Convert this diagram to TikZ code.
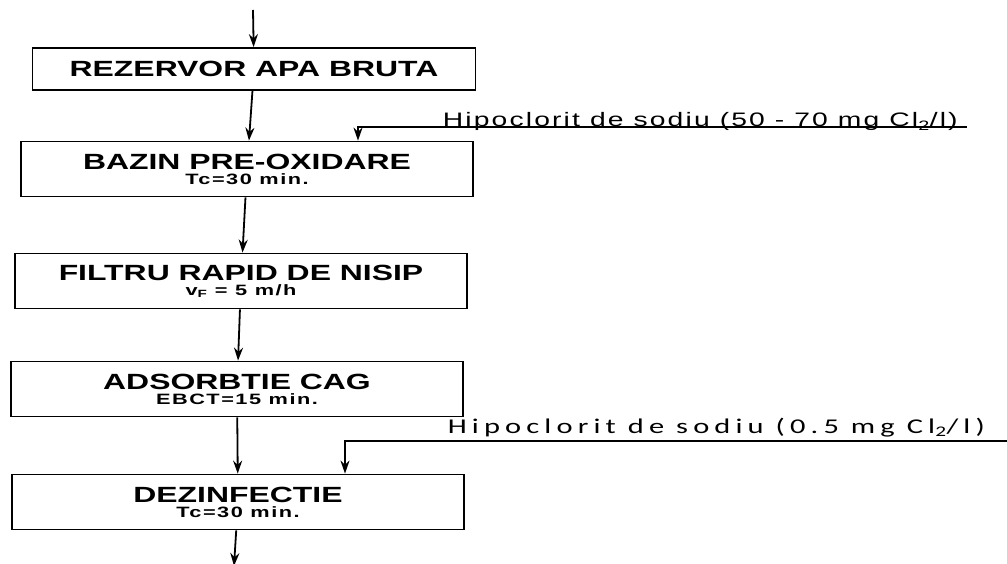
\documentclass[tikz,border=0pt]{standalone}
\usepackage{fontspec}
\setmainfont{Liberation Sans}
\newfontfamily\boxfont[FakeStretch=1.45]{Liberation Sans}
\newfontfamily\subfont[FakeStretch=1.45,LetterSpace=10]{Liberation Sans}
\newfontfamily\hipfont[FakeStretch=1.45,LetterSpace=11]{Liberation Sans}
\newfontfamily\hipcfont[FakeStretch=1.45,LetterSpace=24.5]{Carlito}
\newcommand\tline[1]{{\boxfont\fontsize{22}{22}\selectfont #1}}
\usetikzlibrary{arrows.meta}

\begin{document}
\begin{tikzpicture}[x=1pt,y=-1pt,-,>={Stealth[length=13pt,width=9pt]},shorten >=0pt,node distance=111pt,line width=1.8pt,
    main node/.style={rectangle,draw=black,line width=1.8pt,minimum width=452pt,minimum height=55pt,inner sep=0pt,align=center,font=\subfont\bfseries\fontsize{15}{15}\selectfont},
    hip node/.style={anchor=base west,inner sep=0pt,font=\hipfont\fontsize{19.5}{20}\selectfont},
    hipc node/.style={anchor=base west,inner sep=0pt,font=\hipcfont\fontsize{21}{22}\selectfont}]
                    \useasboundingbox (0,0) rectangle (1007,564);

                    \node[main node, minimum width=443pt, minimum height=42pt] (1) at (254,69) {\tline{REZERVOR APA BRUTA}};
                    \node[main node] (2) [below of = 1, node distance=100pt, xshift=-7pt] {\tline{BAZIN PRE-OXIDARE}\\Tc=30 min.};
                    \node[main node] (3) [below of = 2, node distance=112pt, xshift=-6pt] {\tline{FILTRU RAPID DE NISIP}\\v\textsubscript{F} = 5 m/h};
                    \node[main node] (4) [below of = 3, node distance=108pt, xshift=-4pt] {\tline{ADSORBTIE CAG}\\EBCT=15 min.};
                    \node[main node] (5) [below of = 4, node distance=113pt, xshift=1pt] {\tline{DEZINFECTIE}\\Tc=30 min.};

                    % intrare / iesire
                    \coordinate (0) at (253,10);
                    \coordinate (6) at (234,566);

                    % dozare hipoclorit
                    \node[hip node] (h1) at (442,127) {Hipoclorit de sodiu (50 - 70 mg Cl\textsubscript{2}/l)};
                    \node[hipc node] (h2) at (447,433) {Hipoclorit de sodiu (0.5 mg Cl\textsubscript{2}/l)};
                    \coordinate (d1) at (358,0);
                    \coordinate (d2) at (345,0);
                    \coordinate (f2) at (1007,441);

                    \path[->]
                        (0) edge (1)
                        (1) edge (2)
                        (2) edge (3)
                        (3) edge (4)
                        (4) edge (5)
                        (5) edge (6)
                        ;
                    \draw[->] ([xshift=8pt]h1.base east) -| (2.north -| d1);
                    \draw[->] (f2) -| (5.north -| d2);
                \end{tikzpicture}
\end{document}
